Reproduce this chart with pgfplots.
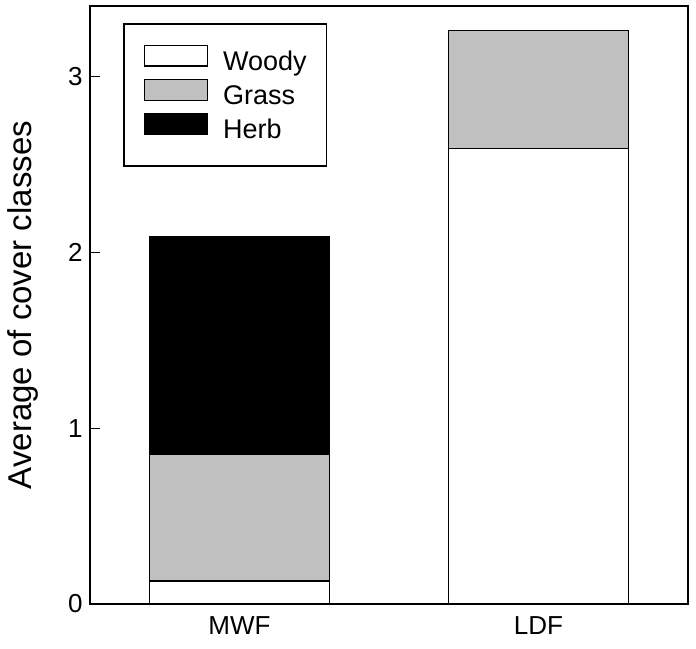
\documentclass[border=0pt]{standalone}
\usepackage{fontspec}
\setmainfont{Liberation Sans}
\usepackage{pgfplots}
\pgfplotsset{compat=1.18}

\definecolor{grassgray}{HTML}{C0C0C0}

\begin{document}
\begin{tikzpicture}
\begin{axis}[
    scale only axis,
    width=598bp,
    height=598bp,
    ybar stacked,
    bar width=180bp,
    xmin=-0.5, xmax=1.5,
    ymin=0, ymax=3.40,
    xtick={0,1},
    xticklabels={MWF,LDF},
    xtick style={draw=none},
    ytick={0,1,2,3},
    ytick pos=left,
    tick align=inside,
    major tick length=10bp,
    axis line style={line width=1.8bp},
    y tick style={line width=1.2bp, black},
    /pgf/number format/assume math mode=true,
    tick label style={font=\fontsize{26bp}{30bp}\selectfont},
    xticklabel style={yshift=-9bp},
    yticklabel style={xshift=-4bp},
    ylabel={Average of cover classes},
    every axis y label/.style={at={(rel axis cs:0,0.5)}, xshift=-58bp,
        rotate=90, anchor=base, font=\fontsize{33bp}{38bp}\selectfont},
    legend style={
        at={(34/598,1-18/598)}, anchor=north west,
        draw=black, line width=1.5bp, outer sep=0pt,
        font=\fontsize{27bp}{32bp}\selectfont,
        inner xsep=20bp, inner ysep=21bp,
        row sep=2.5bp,
        nodes={inner sep=0pt, text height=20bp, text depth=6bp},
        /tikz/every odd column/.append style={column sep=15bp},
        cells={anchor=west},
    },
    legend image code/.code={
        \draw[#1, line width=1.2bp] (0bp,-2.5bp) rectangle (63bp,18bp);
    },
    every axis plot/.append style={draw=black, line width=1.5bp},
]
\addplot[fill=white] coordinates {(0,0.13) (1,2.59)};
\addplot[fill=grassgray] coordinates {(0,0.72) (1,0.67)};
\addplot[fill=black] coordinates {(0,1.24) (1,0)};
\legend{Woody,Grass,Herb}
\end{axis}
\path ([xshift=-90bp,yshift=-45bp]current axis.south west)
    rectangle ([xshift=8bp,yshift=6bp]current axis.north east);
\end{tikzpicture}
\end{document}
